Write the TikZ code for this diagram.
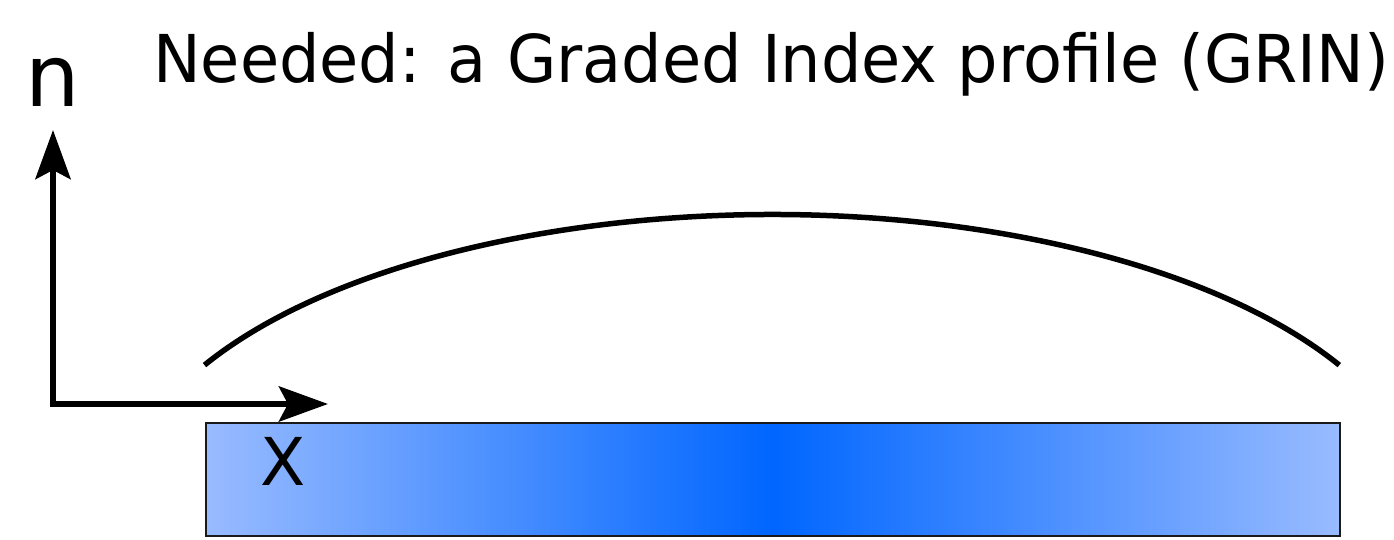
\documentclass[tikz,border=0pt]{standalone}
\usepackage{fontspec}
\setmainfont{DejaVu Sans}
\usepackage{xcolor}
\usetikzlibrary{arrows.meta}

\definecolor{grinedge}{HTML}{99BBFF}
\definecolor{grincore}{HTML}{0066FF}
\definecolor{barline}{HTML}{1A1A1A}

\begin{document}
\begin{tikzpicture}[x=1pt,y=1pt,>={Stealth[length=49pt,width=35pt,inset=9pt]}]
  \useasboundingbox (0,0) rectangle (1394,540);
  % graded index slab
  \node[draw=barline,line width=1.5pt,inner sep=0pt,minimum width=1134pt,minimum height=113pt,
        left color=grinedge,right color=grinedge,middle color=grincore,anchor=south west] (slab) at (205,3) {};
  % axes
  \coordinate (origin) at (53,136);
  \coordinate (ntip) at (53,410);
  \coordinate (xtip) at (328,136);
  \draw[<->,line width=6.5pt] (ntip) -- (origin) -- (xtip);
  \node[anchor=base west,inner sep=0pt,font=\fontsize{86}{100}\selectfont] (nlabel) at (25,433) {n};
  \node[anchor=base west,inner sep=0pt,font=\fontsize{66}{80}\selectfont] (xlabel) at (260,54) {X};
  % index profile
  \coordinate (profL) at (204.5,174.9);
  \draw[line width=5.5pt] (profL) arc[start angle=150.8,end angle=29.2,x radius=650,y radius=294];
  \node[anchor=base west,inner sep=0pt,font=\fontsize{66}{80}\selectfont] (title) at (153,457)
    {\resizebox{1236pt}{\height}{Needed: a Graded Index profile (GRIN)}};
\end{tikzpicture}
\end{document}
